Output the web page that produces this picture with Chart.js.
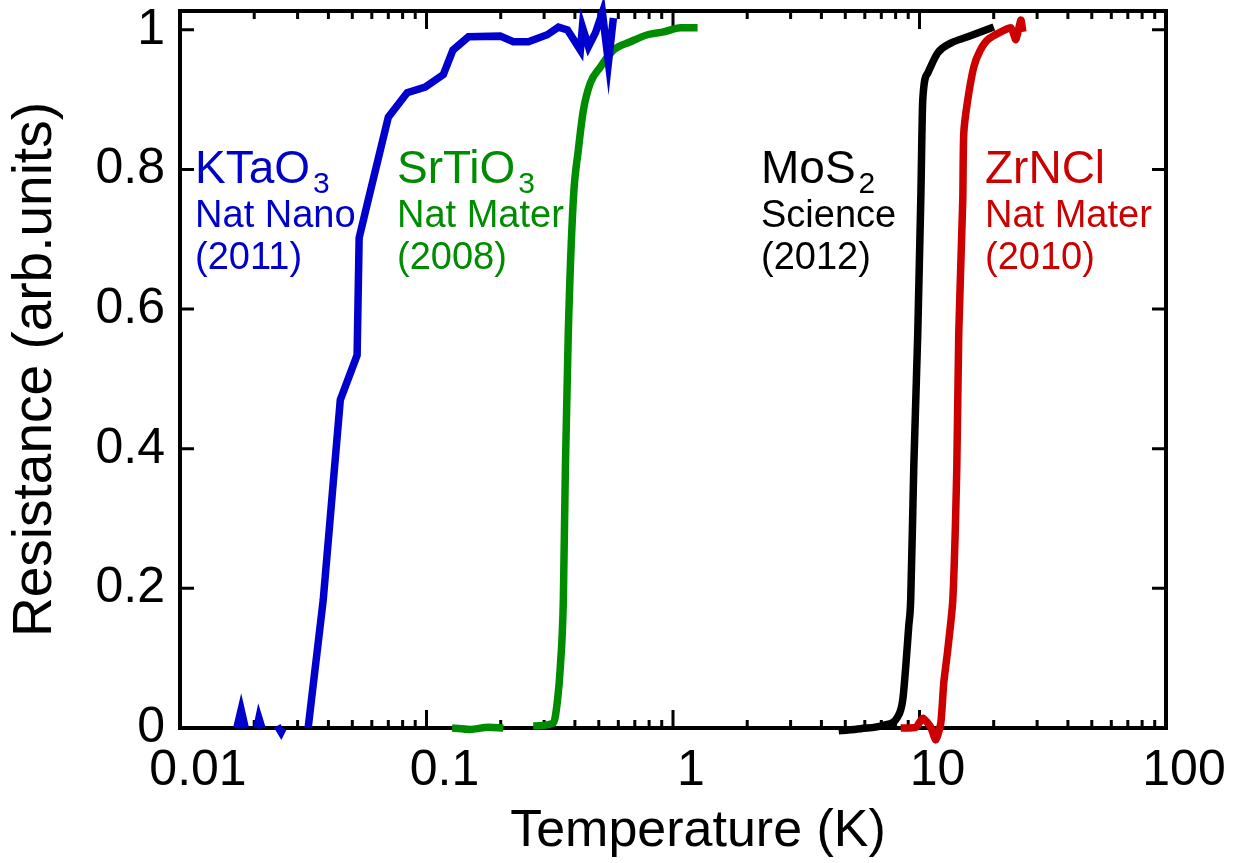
<!DOCTYPE html>
<html>
<head>
<meta charset="utf-8">
<script src="https://cdn.jsdelivr.net/npm/chart.js@4.4.1/dist/chart.umd.min.js"></script>
<style>
  html, body { margin: 0; padding: 0; background: #ffffff; }
  canvas { display: block; }
</style>
</head>
<body>
<canvas id="chart" width="1234" height="863"></canvas>
<script>
// Superconducting transitions: normalised resistance vs temperature
const FONT = '"Liberation Sans", Arial, Helvetica, sans-serif';

// KTaO3 (Nat Nano 2011); null breaks the line between the low-T noise blips
const ktaoT = [0.0170, 0.0177, 0.0184, 0.0195, 0.0205, 0.0209, 0.0215, 0.0230, 0.0248, 0.0257, 0.0262, 0.0300,
  0.0331, 0.0381, 0.0447, 0.0523, 0.0533, 0.0580, 0.0700, 0.0835, 0.0988, 0.117, 0.128, 0.148,
  0.199, 0.225, 0.259, 0.309, 0.343, 0.373, 0.421, 0.429, 0.454, 0.485, 0.517, 0.547, 0.573];
const ktaoR = [0, 0.026, 0, null, 0, 0.014, 0, null, 0.003, -0.006, 0, null,
  0, 0.183, 0.470, 0.534, 0.702, 0.756, 0.875, 0.910, 0.918, 0.936, 0.971, 0.990,
  0.991, 0.983, 0.983, 0.993, 1.004, 1.000, 0.971, 1.004, 0.976, 0.996, 1.025, 0.953, 1.017];

// SrTiO3 (Nat Mater 2008)
const stoT = [0.127, 0.150, 0.178, 0.205, 0.235, 0.271, 0.327, 0.340, 0.349, 0.359, 0.366, 0.376,
  0.394, 0.413, 0.433, 0.462, 0.508, 0.573, 0.672, 0.788, 0.915, 1.073, 1.258];
const stoR = [0.000, -0.002, 0.001, 0.000, null, 0.003, 0.007, 0.040, 0.087, 0.183, 0.374, 0.566,
  0.756, 0.828, 0.885, 0.924, 0.947, 0.971, 0.983, 0.993, 0.997, 1.003, 1.003];

// MoS2 (Science 2012)
const mosT = [4.70, 5.77, 7.16, 8.16, 8.55, 8.79, 9.04, 9.21, 9.48, 9.84, 10.12, 10.31, 10.80, 11.86, 13.40, 15.70, 20.02];
const mosR = [-0.004, -0.001, 0.004, 0.016, 0.040, 0.087, 0.145, 0.183, 0.374, 0.566, 0.756, 0.900, 0.938, 0.967, 0.981, 0.990, 1.004];

// ZrNCl (Nat Mater 2010)
const zrT = [8.39, 9.66, 10.31, 11.11, 11.64, 12.20, 12.54, 13.02, 13.65, 14.17, 14.43, 14.98, 15.12, 15.70, 16.61, 17.60, 18.93, 21.38, 23.49, 24.60, 25.77, 26.26];
const zrR = [0.000, 0.001, 0.014, 0.001, -0.017, 0.007, 0.064, 0.112, 0.183, 0.374, 0.566, 0.756, 0.852, 0.900, 0.947, 0.970, 0.986, 0.997, 1.003, 0.986, 1.014, 0.997];

// Axis ticks and titles
const xDecades = [0.01, 0.1, 1, 10, 100];
const xTickLabels = ['0.01', '0.1', '1', '10', '100'];
const yTicks = [0, 0.2, 0.4, 0.6, 0.8, 1];
const yTickLabels = ['0', '0.2', '0.4', '0.6', '0.8', '1'];
const xTitle = 'Temperature (K)';
const yTitle = 'Resistance (arb.units)';

// Material captions
const materialNames = ['KTaO', 'SrTiO', 'MoS', 'ZrNCl'];
const materialSubs = ['3', '3', '2', ''];
const journals = ['Nat Nano', 'Nat Mater', 'Science', 'Nat Mater'];
const years = ['(2011)', '(2008)', '(2012)', '(2010)'];
const colors = ['#0000cc', '#008c00', '#000000', '#cc0000'];
const captionT = [0.01151, 0.0759, 2.275, 18.44];
const captionR = 0.7806;

const toPoints = (T, R) => T.map((t, i) => ({ x: t, y: R[i] }));

function isDecade(v) {
  const l = Math.log10(v);
  return Math.abs(l - Math.round(l)) < 1e-9;
}

// Inward ticks and the closed frame, drawn underneath the curves
const frameTicks = {
  id: 'frameTicks',
  beforeDatasetsDraw(chart) {
    const { ctx, chartArea: a, scales: { x, y } } = chart;
    ctx.save();
    ctx.strokeStyle = '#000';
    ctx.lineCap = 'butt';
    ctx.lineWidth = 3;
    x.ticks.forEach(t => {
      const px = x.getPixelForValue(t.value);
      const len = isDecade(t.value) ? 18 : 8;
      ctx.beginPath();
      ctx.moveTo(px, a.bottom); ctx.lineTo(px, a.bottom - len);
      ctx.moveTo(px, a.top); ctx.lineTo(px, a.top + len);
      ctx.stroke();
    });
    y.ticks.forEach(t => {
      const py = y.getPixelForValue(t.value);
      ctx.beginPath();
      ctx.moveTo(a.left, py); ctx.lineTo(a.left + 14, py);
      ctx.moveTo(a.right, py); ctx.lineTo(a.right - 14, py);
      ctx.stroke();
    });
    ctx.lineWidth = 4;
    ctx.strokeRect(a.left, a.top, a.right - a.left, a.bottom - a.top);
    ctx.restore();
  }
};

// Material / journal / year captions next to each curve, plus the x-axis title
const captions = {
  id: 'captions',
  afterDatasetsDraw(chart) {
    const { ctx, chartArea: a, scales: { x, y } } = chart;
    ctx.save();
    ctx.textAlign = 'left';
    ctx.textBaseline = 'alphabetic';
    materialNames.forEach((name, i) => {
      const px = x.getPixelForValue(captionT[i]);
      const py = y.getPixelForValue(captionR);
      ctx.fillStyle = colors[i];
      ctx.font = '46px ' + FONT;
      ctx.fillText(name, px, py);
      if (materialSubs[i]) {
        const w = ctx.measureText(name).width;
        ctx.font = '30px ' + FONT;
        ctx.fillText(materialSubs[i], px + w + 3, py + 10);
      }
      ctx.font = '38px ' + FONT;
      ctx.fillText(journals[i], px, py + 44);
      ctx.fillText(years[i], px, py + 86);
    });
    // x-axis title, set slightly right of the plot centre
    ctx.fillStyle = '#000';
    ctx.font = '52px ' + FONT;
    ctx.textAlign = 'center';
    ctx.fillText(xTitle, (a.left + a.right) / 2 + 25, a.bottom + 118);
    ctx.restore();
  }
};

const lineStyle = {
  borderWidth: 7.5,
  pointRadius: 0,
  pointHoverRadius: 0,
  fill: false,
  spanGaps: false,
  clip: false
};

new Chart(document.getElementById('chart'), {
  type: 'line',
  data: {
    datasets: [
      { ...lineStyle, label: 'KTaO3', data: toPoints(ktaoT, ktaoR), borderColor: colors[0], tension: 0, borderJoinStyle: 'miter' },
      { ...lineStyle, label: 'SrTiO3', data: toPoints(stoT, stoR), borderColor: colors[1], cubicInterpolationMode: 'monotone' },
      { ...lineStyle, label: 'MoS2', data: toPoints(mosT, mosR), borderColor: colors[2], cubicInterpolationMode: 'monotone' },
      { ...lineStyle, label: 'ZrNCl', data: toPoints(zrT, zrR), borderColor: colors[3], tension: 0.2, borderJoinStyle: 'miter' }
    ]
  },
  options: {
    responsive: false,
    animation: false,
    events: [],
    layout: { padding: { top: 11, right: 68, left: 0, bottom: 0 } },
    plugins: { legend: { display: false }, tooltip: { enabled: false } },
    scales: {
      x: {
        type: 'logarithmic',
        position: 'bottom',
        min: 0.01,
        max: 100,
        afterBuildTicks(scale) {
          const vals = [];
          xDecades.slice(0, -1).forEach(d => {
            for (let m = 1; m <= 9; m++) vals.push(+(d * m).toPrecision(6));
          });
          vals.push(xDecades[xDecades.length - 1]);
          scale.ticks = vals.map(v => ({ value: v, major: isDecade(v) }));
        },
        afterFit(scale) {
          scale.height = 135;
          scale.paddingLeft = 0;
          scale.paddingRight = 0;
        },
        grid: { display: false, drawTicks: false },
        border: { display: false },
        ticks: {
          autoSkip: false,
          maxRotation: 0,
          padding: 13,
          labelOffset: 18,
          color: '#000',
          font: { family: FONT, size: 50 },
          callback(value) {
            const k = xDecades.findIndex(d => Math.abs(d - value) / d < 1e-6);
            return k >= 0 ? xTickLabels[k] : '';
          }
        },
        title: { display: false }
      },
      y: {
        type: 'linear',
        min: 0,
        max: 1.027,
        afterBuildTicks(scale) {
          scale.ticks = yTicks.map(v => ({ value: v }));
        },
        afterFit(scale) {
          scale.width = 180;
          scale.paddingTop = 0;
          scale.paddingBottom = 0;
        },
        grid: { display: false, drawTicks: false },
        border: { display: false },
        ticks: {
          padding: 15,
          color: '#000',
          font: { family: FONT, size: 50 },
          callback(value) {
            const k = yTicks.findIndex(v => Math.abs(v - value) < 1e-6);
            return k >= 0 ? yTickLabels[k] : '';
          }
        },
        title: {
          display: true,
          text: yTitle,
          color: '#000',
          font: { family: FONT, size: 55 },
          padding: { top: 3, bottom: 0 }
        }
      }
    }
  },
  plugins: [frameTicks, captions]
});
</script>
</body>
</html>
